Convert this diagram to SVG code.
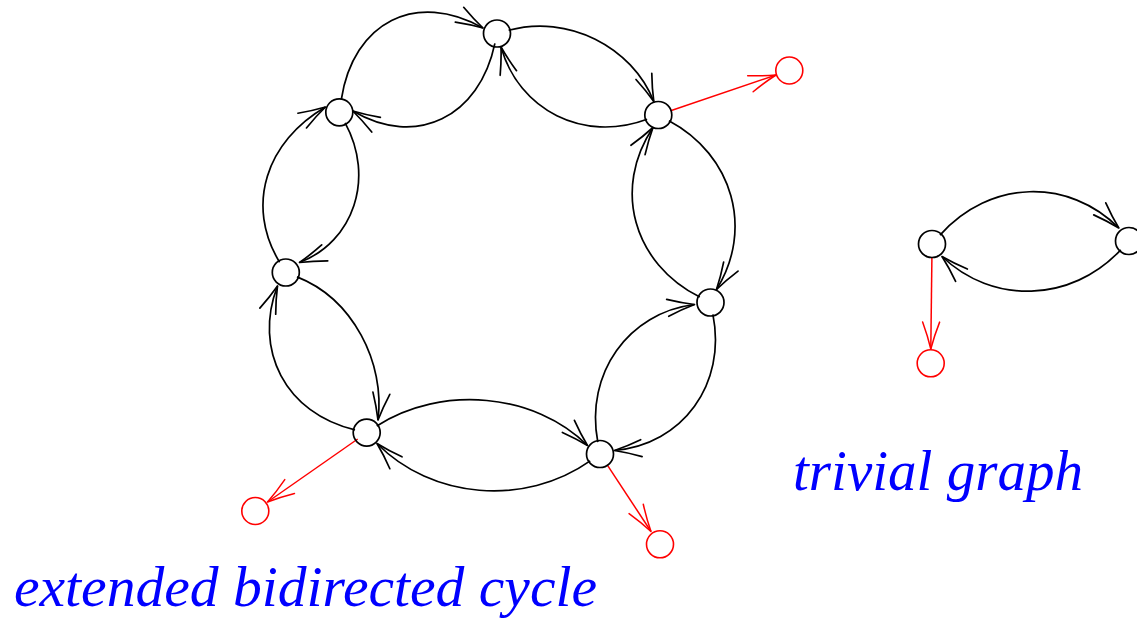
<svg xmlns="http://www.w3.org/2000/svg" width="1137" height="618" viewBox="0 0 1137 618">
<style>
.n{fill:none;stroke:#000;stroke-width:1.7}
.r{fill:none;stroke:#f00;stroke-width:1.6}
.e{fill:none;stroke:#000;stroke-width:1.7;marker-end:url(#ak)}
.er{fill:none;stroke:#f00;stroke-width:1.5;marker-end:url(#ar)}
.t{font-family:"Liberation Serif","Times New Roman",serif;font-style:italic;font-size:56px;fill:#00f}
</style>
<defs>
<marker id="ak" markerUnits="userSpaceOnUse" markerWidth="40" markerHeight="30" viewBox="-32 -15 40 30" refX="0" refY="0" orient="auto" overflow="visible">
<path d="M-27,-8.5 Q-13,-3.2 0,0 Q-13,3.2 -27,8.5" fill="none" stroke="#000" stroke-width="1.7" stroke-linejoin="round" stroke-linecap="round"/>
</marker>
<marker id="ar" markerUnits="userSpaceOnUse" markerWidth="40" markerHeight="30" viewBox="-32 -15 40 30" refX="0" refY="0" orient="auto" overflow="visible">
<path d="M-27,-8.5 Q-13,-3.2 0,0 Q-13,3.2 -27,8.5" fill="none" stroke="#f00" stroke-width="1.5" stroke-linejoin="round" stroke-linecap="round"/>
</marker>
</defs>
<g id="connectors">
<path class="e" d="M341.3,99.5 C353.2,21.9 416.3,-9.7 483,28"/>
<path class="e" d="M494.9,43.3 C479.5,116.8 416.4,148.4 352.8,111"/>
<path class="e" d="M508.6,30.3 C567.6,13.9 632.1,46.6 653.8,101.5"/>
<path class="e" d="M647.1,119.2 C583.4,143 518.9,110.3 501,47"/>
<path class="e" d="M668.9,120.7 C733.1,154.9 753.9,229.8 716.5,289.5"/>
<path class="e" d="M699.8,297.1 C633.1,263.4 612.3,188.5 653,127.5"/>
<path class="e" d="M712.9,314.3 C726.8,384.1 682.7,444.6 614.5,450.5"/>
<path class="e" d="M597.8,442.2 C584.7,373.1 628.8,312.6 694.5,304.5"/>
<path class="e" d="M590.2,460.9 C524.5,507.2 431.2,498.7 377,443.5"/>
<path class="e" d="M376.8,426 C441.7,384.5 535,393 587.5,445.5"/>
<path class="e" d="M355,429.8 C285.3,413.4 253,349.4 277.5,286"/>
<path class="e" d="M297,276.9 C352.9,298.8 385.2,362.8 378,420"/>
<path class="e" d="M279.6,262.2 C245,205.4 266.3,141.4 325.5,107"/>
<path class="e" d="M345.1,122.8 C375.1,177.7 353.8,241.7 299.5,262.5"/>
<path class="e" d="M940,235.1 C990.1,179.1 1068.9,177.9 1118.8,228"/>
<path class="e" d="M1120.8,249.8 C1070.8,303.2 992,304.4 942,256.5"/>
<path class="er" d="M670.6,110.8 L776,75"/>
<path class="er" d="M607.2,464.8 L651,531.5"/>
<path class="er" d="M357.7,439 L267.5,502"/>
<path class="er" d="M931.9,257.5 L930.8,349"/>
</g>
<g id="n1"><circle class="n" cx="497" cy="33.5" r="13.5"/></g>
<g id="n2"><circle class="n" cx="658.3" cy="115" r="13.5"/></g>
<g id="n3"><circle class="n" cx="710.5" cy="302.5" r="13.5"/></g>
<g id="n4"><circle class="n" cx="600" cy="454" r="13.5"/></g>
<g id="n5"><circle class="n" cx="366.7" cy="432.6" r="13.5"/></g>
<g id="n6"><circle class="n" cx="285.8" cy="272.5" r="13.5"/></g>
<g id="n7"><circle class="n" cx="339.3" cy="112.3" r="13.5"/></g>
<g id="r2"><circle class="r" cx="789.3" cy="70.5" r="13.5"/></g>
<g id="r4"><circle class="r" cx="660" cy="544.3" r="13.5"/></g>
<g id="r5"><circle class="r" cx="255.3" cy="511" r="13.5"/></g>
<g id="t1"><circle class="n" cx="932" cy="244" r="13.5"/></g>
<g id="t2"><circle class="n" cx="1129" cy="241" r="13.5"/></g>
<g id="tr"><circle class="r" cx="930.7" cy="363.3" r="13.5"/></g>
<g id="label-cycle"><text class="t" x="14" y="606" textLength="583" lengthAdjust="spacingAndGlyphs">extended bidirected cycle</text></g>
<g id="label-trivial"><text class="t" x="793" y="490" textLength="290" lengthAdjust="spacingAndGlyphs">trivial graph</text></g>
</svg>
